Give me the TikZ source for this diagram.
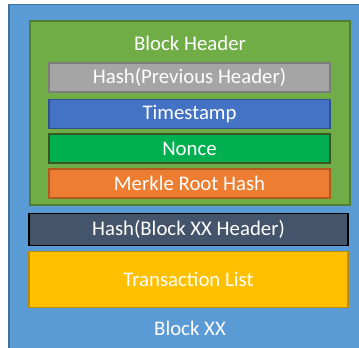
\documentclass[tikz,border=0pt]{standalone}
\usepackage{fontspec}
\setmainfont{Carlito}
\definecolor{blockblue}{RGB}{91,155,213}
\definecolor{blockblueline}{RGB}{65,113,156}
\definecolor{hdrgreen}{RGB}{112,173,71}
\definecolor{hdrgreenline}{RGB}{80,126,50}
\definecolor{prevgray}{RGB}{165,165,165}
\definecolor{prevgrayline}{RGB}{124,124,124}
\definecolor{stampblue}{RGB}{68,114,196}
\definecolor{stampblueline}{RGB}{47,82,143}
\definecolor{noncegreen}{RGB}{0,176,80}
\definecolor{noncegreenline}{RGB}{56,87,35}
\definecolor{merkleorange}{RGB}{237,125,49}
\definecolor{merkleorangeline}{RGB}{174,90,33}
\definecolor{hashslate}{RGB}{68,84,106}
\definecolor{txyellow}{RGB}{255,192,0}
\definecolor{txyellowline}{RGB}{188,140,0}
\begin{document}
\begin{tikzpicture}[x=0.75pt,y=0.75pt,yscale=-1,xscale=1,
  field/.style={draw,line width=1.1pt,minimum width=210.75pt,minimum height=21.75pt,inner sep=0pt,text=white,font=\fontsize{15.6}{18}\selectfont},
  wide/.style={field,minimum width=239.25pt},
  caption/.style={inner sep=0.75pt,text=white,font=\fontsize{15.6}{18}\selectfont}]
\useasboundingbox (0,0) rectangle (359,347);
%Shape: Rectangle (block)
\draw [draw=blockblueline,fill=blockblue,line width=1.1pt] (9,4.5) rectangle (365,352);
%Shape: Rectangle (header)
\draw [draw=hdrgreenline,fill=hdrgreen,line width=1.1pt] (30,21) rectangle (350,205);
% Text Node
\node [caption] (hdr) at (190,43) {Block Header};
\node [field,fill=prevgray,draw=prevgrayline] (prev) at (189.5,77.5) {Hash(Previous Header)};
\node [field,fill=stampblue,draw=stampblueline] (stamp) at (189.5,114) {Timestamp};
\node [field,fill=noncegreen,draw=noncegreenline] (nonce) at (189.5,148.5) {Nonce};
\node [field,fill=merkleorange,draw=merkleorangeline] (merkle) at (189.5,183.5) {Merkle Root Hash};
\node [wide,fill=hashslate,draw=black,minimum height=24pt] (own) at (188.5,229.5) {Hash(Block XX Header)};
\node [wide,fill=txyellow,draw=txyellowline,minimum height=42pt] (tx) at (188.5,279.5) {Transaction List};
% Text Node
\node [caption] (blk) at (190,328) {Block XX};
\end{tikzpicture}
\end{document}
